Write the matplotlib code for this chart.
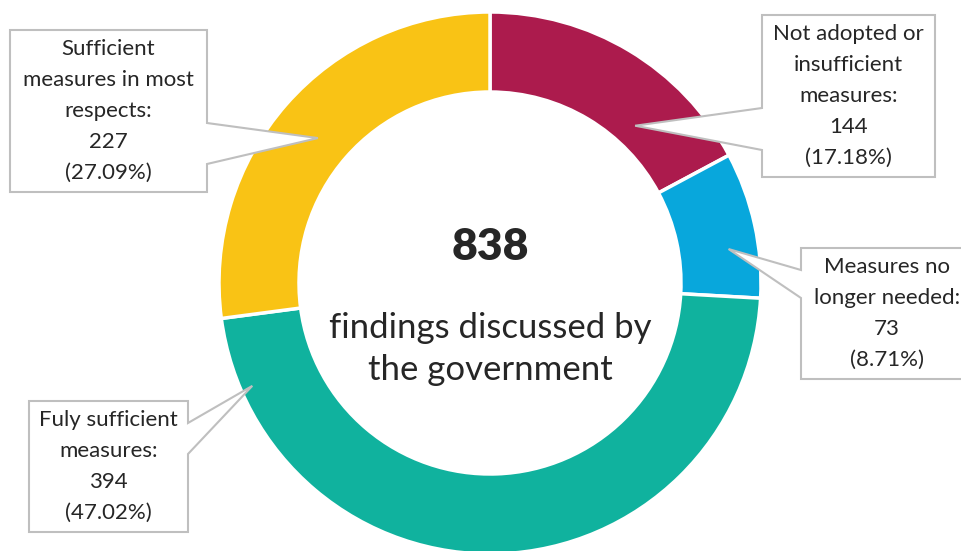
import numpy as np
import matplotlib.pyplot as plt
from matplotlib.patches import Polygon

plt.rcParams['font.family'] = ['Lato', 'DejaVu Sans']

# data
labels = ['Not adopted or\ninsufficient\nmeasures:', 'Measures no\nlonger needed:',
          'Fuly sufficient\nmeasures:', 'Sufficient\nmeasures in most\nrespects:']
counts = [144, 73, 394, 227]
colors = ['#AC1B4D', '#08A7DC', '#10B29E', '#F9C315']
total = sum(counts)

W, H = 961, 551
fig = plt.figure(figsize=(W / 100, H / 100), dpi=100)
ax = fig.add_axes([0, 0, 1, 1])

cx, cy = 490, H - 283
r_out, ring = 271, 80
ax.pie(counts, colors=colors, startangle=90, counterclock=False,
       radius=r_out, center=(cx, cy), frame=True,
       wedgeprops=dict(width=ring, edgecolor='white', linewidth=2.5))
ax.set_xlim(0, W)
ax.set_ylim(0, H)
ax.set_aspect('equal')
ax.axis('off')

# callout layout in image pixels: box (x0, top, x1, bottom), side, wedge base (y_a, y_b), tip angle, tip radius
callouts = [
    ((762, 15, 935, 177), 'left', (108, 150), 47.3, 214),
    ((801, 248, 973, 379), 'left', (270, 298), 8.1, 241),
    ((29, 401, 188, 532), 'right', (423, 454), 203.4, 259),
    ((10, 30, 207, 192), 'right', (123, 164), 139.9, 225),
]

edge = '#BFBFBF'
txt = '#262626'
for lab, n, (box, side, base, ang, rad) in zip(labels, counts, callouts):
    x0, t, x1, b = box
    t, b = H - t, H - b
    ya, yb = H - base[0], H - base[1]
    tx = cx + rad * np.cos(np.radians(ang))
    ty = cy + rad * np.sin(np.radians(ang))
    if side == 'left':
        pts = [(x0, t), (x1, t), (x1, b), (x0, b), (x0, yb), (tx, ty), (x0, ya)]
    else:
        pts = [(x0, t), (x1, t), (x1, ya), (tx, ty), (x1, yb), (x1, b), (x0, b)]
    ax.add_patch(Polygon(pts, closed=True, facecolor='white', edgecolor=edge,
                         linewidth=1.5, zorder=5))
    s = f'{lab}\n{n}\n({n / total * 100:.2f}%)'
    ax.text((x0 + x1) / 2, (t + b) / 2, s, ha='center', va='center',
            fontsize=16, color=txt, linespacing=1.68, zorder=6)

ax.text(cx, H - 247, f'{total}', ha='center', va='center', fontsize=32,
        fontweight='heavy', color=txt)
ax.text(cx, H - 349, 'findings discussed by\nthe government', ha='center',
        va='center', fontsize=25, color=txt, linespacing=1.4)

fig.savefig('out.png', dpi=100)
